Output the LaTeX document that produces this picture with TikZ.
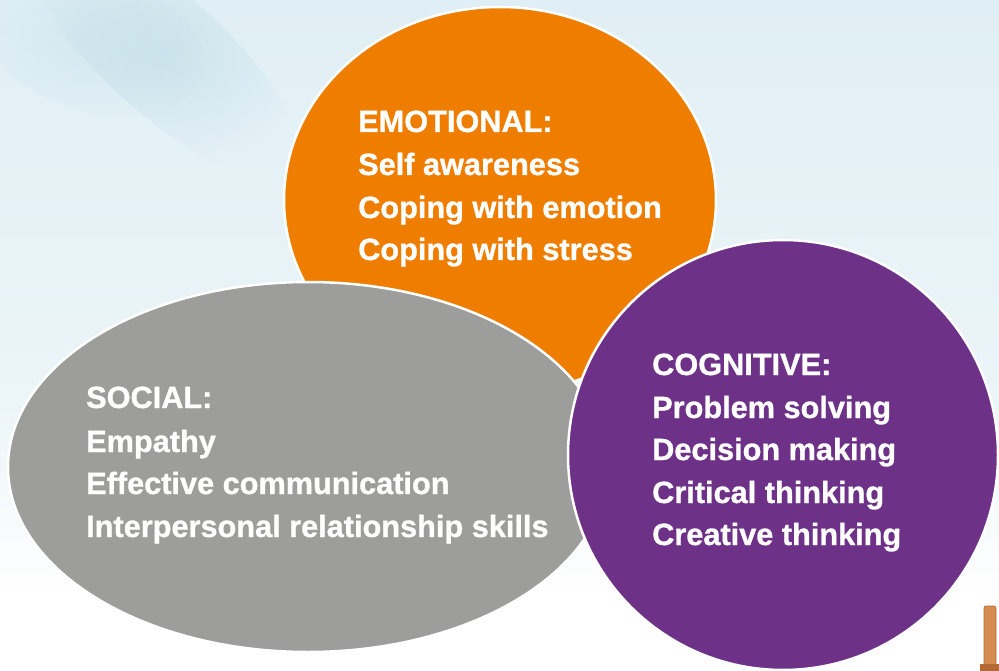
\documentclass[tikz,border=0pt]{standalone}
\usepackage{fontspec}
\setmainfont{Liberation Sans}[BoldFeatures={FakeBold=1}]
\usetikzlibrary{shapes.geometric,fadings}
\definecolor{skytop}{RGB}{224,239,245}
\definecolor{skymid}{RGB}{236,245,248}
\definecolor{cloud}{RGB}{188,219,229}
\definecolor{emoorange}{RGB}{239,125,0}
\definecolor{socgray}{RGB}{157,157,155}
\definecolor{cogpurple}{RGB}{109,50,135}
\definecolor{pillar}{RGB}{214,140,80}
\definecolor{pillardark}{RGB}{180,105,50}
\tikzfading[name=softedge, inner color=transparent!0, outer color=transparent!100]
\tikzset{
  blob/.style={ellipse, draw=white, line width=2.5pt, inner sep=0pt},
  item/.style={anchor=base west, text=white, inner sep=0pt,
    font=\fontsize{30.7}{43}\selectfont\bfseries},
}
\begin{document}
\begin{tikzpicture}[x=1pt,y=-1pt]
\useasboundingbox (0,0) rectangle (999,671);
% pale sky backdrop
\shade[top color=skytop, bottom color=skymid] (0,0) rectangle (999,400);
\shade[top color=skymid, bottom color=white] (0,399.5) rectangle (999,600);
\fill[white] (0,599.5) rectangle (999,671);
% soft cloud streaks
\fill[cloud, path fading=softedge, opacity=.55] (165,55) ellipse [x radius=170, y radius=60, rotate=-42];
\fill[cloud, path fading=softedge, opacity=.35] (90,40) ellipse [x radius=120, y radius=70, rotate=-20];
% pillar in the corner
\fill[pillar, draw=pillardark, line width=.6pt, rounded corners=2pt] (984,606) rectangle (996,668);
\fill[pillardark] (980,664) rectangle (999,671);

% the three skill groups
\node[blob, fill=emoorange, minimum width=432pt, minimum height=386pt] (emo) at (500,200) {};
\node[blob, fill=socgray, minimum width=600pt, minimum height=370pt] (soc) at (308,467) {};
\node[blob, fill=cogpurple, minimum width=430pt, minimum height=430pt] (cog) at (783,455) {};

% emotional skills
\node[item] (emoT) at (358,132) {EMOTIONAL:};
\node[item] (emoA) at (358,175) {Self awareness};
\node[item] (emoB) at (358,218) {Coping with emotion};
\node[item] (emoC) at (358,260) {Coping with stress};

% social skills
\node[item] (socT) at (86,408) {SOCIAL:};
\node[item] (socA) at (86,452) {Empathy};
\node[item] (socB) at (86,494) {Effective communication};
\node[item] (socC) at (86,537) {Interpersonal relationship skills};

% cognitive skills
\node[item] (cogT) at (652,375) {COGNITIVE:};
\node[item] (cogA) at (652,418) {Problem solving};
\node[item] (cogB) at (652,460) {Decision making};
\node[item] (cogC) at (652,503) {Critical thinking};
\node[item] (cogD) at (652,545) {Creative thinking};
\end{tikzpicture}
\end{document}
